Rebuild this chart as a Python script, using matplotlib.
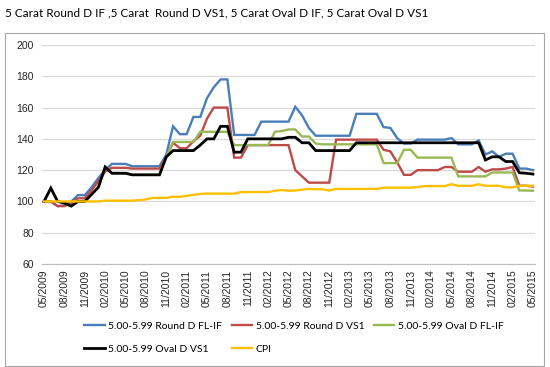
import matplotlib
matplotlib.use("Agg")
import matplotlib.pyplot as plt
from matplotlib.patches import Rectangle

title = "5 Carat Round D IF ,5 Carat  Round D VS1, 5 Carat Oval D IF, 5 Carat Oval D VS1"

tick_labels = ["05/2009", "08/2009", "11/2009", "02/2010", "05/2010", "08/2010", "11/2010",
               "02/2011", "05/2011", "08/2011", "11/2011", "02/2012", "05/2012", "08/2012",
               "11/2012", "02/2013", "05/2013", "08/2013", "11/2013", "02/2014", "05/2014",
               "08/2014", "11/2014", "02/2015", "05/2015"]

round_fl_if = [100, 100, 97, 97.5, 100, 104, 104, 109, 115, 120, 124, 124, 124,
               122.5, 122.5, 122.5, 122.5, 122.5, 130, 148, 143, 143, 154, 154,
               166, 173, 178, 178, 142.5, 142.5, 142.5, 142.5, 151, 151, 151, 151, 151,
               160.5, 155, 147, 142, 142, 142, 142, 142, 142, 156, 156, 156, 156,
               147.5, 147, 140.5, 137, 137, 139.5, 139.5, 139.5, 139.5, 139.5, 140.5,
               136.5, 136.5, 136.5, 139, 130, 132, 128.5, 130.5, 130.5, 121, 121, 120]

round_vs1 = [100, 100, 97, 97, 99, 102, 102, 107, 113, 119, 121.5, 121.5, 121.5,
             121, 121, 121, 121, 121, 128.5, 137.5, 134, 134, 138.5, 142,
             153, 160, 160, 160, 128, 128, 136, 136, 136, 136, 136, 136, 136,
             120, 116, 112, 112, 112, 112, 139.5, 139.5, 139.5, 139.5, 139.5, 139.5, 139.5,
             133, 132, 125, 117, 117, 120, 120, 120, 120, 122, 122,
             119, 119, 119, 122, 119, 120.5, 120.5, 121, 122, 110, 110, 109.5]

oval_fl_if = [100, 108.5, 100, 99, 97, 100, 100, 104.5, 109, 122, 118, 118, 118,
              117, 117, 117, 117, 117, 128.5, 138, 138, 138, 138, 144.5,
              144.5, 144.5, 144.5, 144.5, 136, 136, 136, 136, 136, 136, 144.5, 145, 146,
              146, 141.5, 141.5, 137, 136.5, 136.5, 136.5, 136.5, 136.5, 136.5, 136.5, 136.5, 136.5,
              124.5, 124.5, 124.5, 133, 133, 128, 128, 128, 128, 128, 128,
              116, 116, 116, 116, 116, 118.5, 118.5, 118.5, 118.5, 107, 107, 106.8]

oval_vs1 = [100, 108.5, 100, 99, 97, 100, 100, 104.5, 109, 122, 118, 118, 118,
            117, 117, 117, 117, 117, 128.5, 132.5, 132.5, 132.5, 132.5, 136,
            140, 140, 148, 148, 131.5, 131.5, 140, 140, 140, 140, 140, 140, 141,
            141, 137.5, 137.5, 132.5, 132.5, 132.5, 132.5, 132.5, 132.5, 137.5, 137.5, 137.5, 137.5,
            137.5, 137.5, 137.5, 137.5, 137.5, 137.5, 137.5, 137.5, 137.5, 137.5, 137.5,
            137.5, 137.5, 137.5, 137.5, 126.5, 128.5, 128.5, 125.5, 125.5, 118.3, 118, 117.5]

cpi = [100, 100, 100, 100, 100, 100, 100, 100, 100, 100.5, 100.5, 100.5, 100.5,
       100.5, 100.8, 101.3, 102.3, 102.3, 102.3, 103, 103, 103.5, 104.2, 104.8,
       105, 105, 105, 105, 105, 106, 106, 106, 106, 106, 106.8, 107.3, 106.8,
       107, 107.5, 108, 107.8, 107.8, 107, 108, 108, 108, 108, 108, 108, 108,
       108.8, 108.8, 108.8, 108.8, 108.8, 109.2, 109.8, 109.8, 109.8, 109.8, 111,
       110, 110, 110, 111, 110, 110, 110, 109, 109, 110, 110, 110]

series = [
    ("5.00-5.99 Round D FL-IF", round_fl_if, "#4A7EBB", 1.7),
    ("5.00-5.99 Round D VS1", round_vs1, "#BE4B48", 1.7),
    ("5.00-5.99 Oval D FL-IF", oval_fl_if, "#98B954", 1.7),
    ("5.00-5.99 Oval D VS1", oval_vs1, "#000000", 2.0),
    ("CPI", cpi, "#FFC000", 1.7),
]

fig = plt.figure(figsize=(5.5, 3.67), dpi=100)
fig.patch.set_facecolor("white")

# chart area border
fig.add_artist(Rectangle((5 / 550, 1 / 367), 539 / 550, 1 - 34 / 367,
                         transform=fig.transFigure, fill=False,
                         edgecolor="#A6A6A6", linewidth=0.8))

fig.text(5 / 550, 1 - 13 / 367, title, fontsize=8.5, family="Lato",
         ha="left", va="center", color="#000000")

ax = fig.add_axes([42 / 550, 1 - 264 / 367, 493 / 550, (264 - 45) / 367])
handles = {}
for name, vals, col, lw in series:
    x = list(range(len(vals)))
    h, = ax.plot(x, vals, color=col, linewidth=lw, label=name, solid_joinstyle="miter")
    handles[name] = h

ax.set_ylim(60, 200)
ax.set_yticks(range(60, 201, 20))
ax.set_xlim(-0.3, 72.3)
ax.set_xticks(range(0, 73, 3))
ax.set_xticklabels(tick_labels, rotation=90, fontsize=7.5, family="Liberation Sans", color="#262626")
ax.tick_params(axis="y", labelsize=7.5, length=0, pad=6, colors="#262626")
ax.tick_params(axis="x", length=0, pad=4)
for lab in ax.get_yticklabels():
    lab.set_family("Liberation Sans")
ax.grid(axis="y", color="#D9D9D9", linewidth=0.9)
ax.set_axisbelow(True)
for s in ["top", "right", "left"]:
    ax.spines[s].set_visible(False)
ax.spines["bottom"].set_color("#BFBFBF")

order = ["5.00-5.99 Round D FL-IF", "5.00-5.99 Oval D VS1",
         "5.00-5.99 Round D VS1", "CPI", "5.00-5.99 Oval D FL-IF"]
leg = fig.legend([handles[n] for n in order], order, loc="upper left",
                 bbox_to_anchor=(75 / 550, 1 - 312 / 367), ncol=3, frameon=False,
                 prop={"family": "Lato", "size": 7.5}, handlelength=2.0,
                 handletextpad=0.3, columnspacing=0.9, labelspacing=1.35)

fig.savefig("out.png", dpi=100, facecolor="white")
